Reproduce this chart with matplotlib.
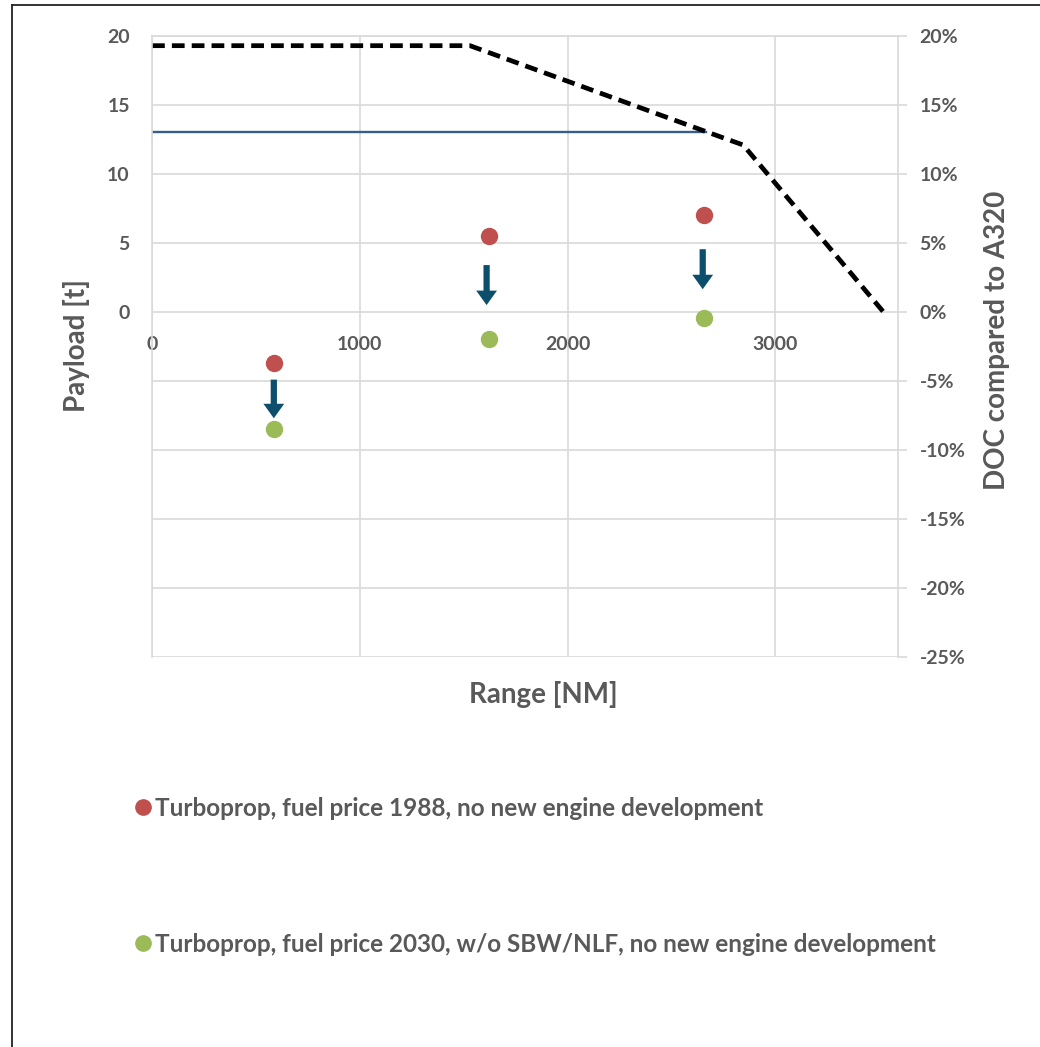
import numpy as np
import matplotlib
matplotlib.use("Agg")
import matplotlib.pyplot as plt
from matplotlib.lines import Line2D

plt.rcParams['font.family'] = ['Lato', 'DejaVu Sans']
plt.rcParams['font.weight'] = 'bold'

## data
dash_range = [0, 1530, 2670, 2845, 3520]
dash_payload = [19.3, 19.3, 13.05, 12.1, 0]
blue_range = [0, 2665]
blue_payload = [13.05, 13.05]

ranges = [586, 1622, 2658]
doc_1988 = [-3.7, 5.5, 7.0]
doc_2030 = [-8.45, -1.95, -0.45]
arrow_x = [586, 1610, 2650]
arrow_top = [-4.9, 3.4, 4.55]
arrow_tip = [-7.7, 0.5, 1.65]

x_ticks = [0, 1000, 2000, 3000]
y_ticks = [-25, -20, -15, -10, -5, 0, 5, 10, 15, 20]

label_1988 = 'Turboprop, fuel price 1988, no new engine development'
label_2030 = 'Turboprop, fuel price 2030, w/o SBW/NLF, no new engine development'

red = '#C0504D'
green = '#9BBB59'
arrow_col = '#0B4F6C'
grid_col = '#D9D9D9'
text_col = '#595959'

## figure
fig = plt.figure(figsize=(10.4, 10.47), dpi=100)
ax = fig.add_axes([0.1462, 0.3725, 0.7173, 0.5931])
ax.set_xlim(0, 3590)
ax.set_ylim(-25, 20)

ax.set_xticks(x_ticks)
ax.set_yticks(y_ticks)
ax.set_yticklabels([str(v) if v >= 0 else '' for v in y_ticks])
ax.grid(True, color=grid_col, lw=1.2)
ax.set_axisbelow(True)
for s in ax.spines.values():
    s.set_color(grid_col)
    s.set_linewidth(1.2)
ax.spines['bottom'].set_position(('data', 0))
ax.spines['bottom'].set_visible(False)
ax.tick_params(axis='x', length=0, pad=17, labelsize=14, labelcolor=text_col)
ax.tick_params(axis='y', length=0, pad=16, labelsize=14, labelcolor=text_col)

ax2 = ax.twinx()
ax2.set_ylim(-25, 20)
ax2.set_yticks(y_ticks)
ax2.set_yticklabels([f'{v}%' for v in y_ticks])
ax2.tick_params(axis='y', length=6.5, width=1.2, color=grid_col, pad=9,
                labelsize=14, labelcolor=text_col)
for s in ax2.spines.values():
    s.set_visible(False)

# lines
ax.plot(blue_range, blue_payload, color='#355E8D', lw=1.7)
ax.plot(dash_range, dash_payload, color='black', lw=3.4,
        linestyle=(0, (2.7, 1.5)), dash_capstyle='butt')

# points
ax.plot(ranges, doc_1988, 'o', color=red, markersize=11.5)
ax.plot(ranges, doc_2030, 'o', color=green, markersize=11.5)

# arrows
for x, y0, y1 in zip(arrow_x, arrow_top, arrow_tip):
    ax.arrow(x, y0, 0, y1 - y0, width=30, head_width=100, head_length=1.05,
             length_includes_head=True, color=arrow_col, lw=0)

# axis titles
fig.text(543 / 1040, 1 - 695 / 1047, 'Range [NM]', ha='center', va='center',
         fontsize=20, color=text_col)
fig.text(76 / 1040, 1 - 346 / 1047, 'Payload [t]', ha='center', va='center',
         rotation=90, fontsize=20, color=text_col)
fig.text(997 / 1040, 1 - 340 / 1047, 'DOC compared to A320', ha='center',
         va='center', rotation=90, fontsize=20, color=text_col)

# legend
handles = [Line2D([], [], marker='o', ls='none', color=red, markersize=11),
           Line2D([], [], marker='o', ls='none', color=green, markersize=11)]
fig.legend(handles, [label_1988, label_2030], loc='upper left',
           bbox_to_anchor=(136 / 1040, 1 - 797 / 1047), frameon=False,
           fontsize=17.5, labelcolor=text_col, handlelength=0.55,
           handletextpad=0.25, labelspacing=4.64, borderpad=0,
           borderaxespad=0)

# frame around the picture
fig.add_artist(Line2D([12 / 1040, 12 / 1040], [0, 1 - 5 / 1047],
                      transform=fig.transFigure, color='#222222', lw=1.3))
fig.add_artist(Line2D([12 / 1040, 1], [1 - 5 / 1047, 1 - 5 / 1047],
                      transform=fig.transFigure, color='#222222', lw=1.3))

fig.savefig('out.png', dpi=100, facecolor='white')
